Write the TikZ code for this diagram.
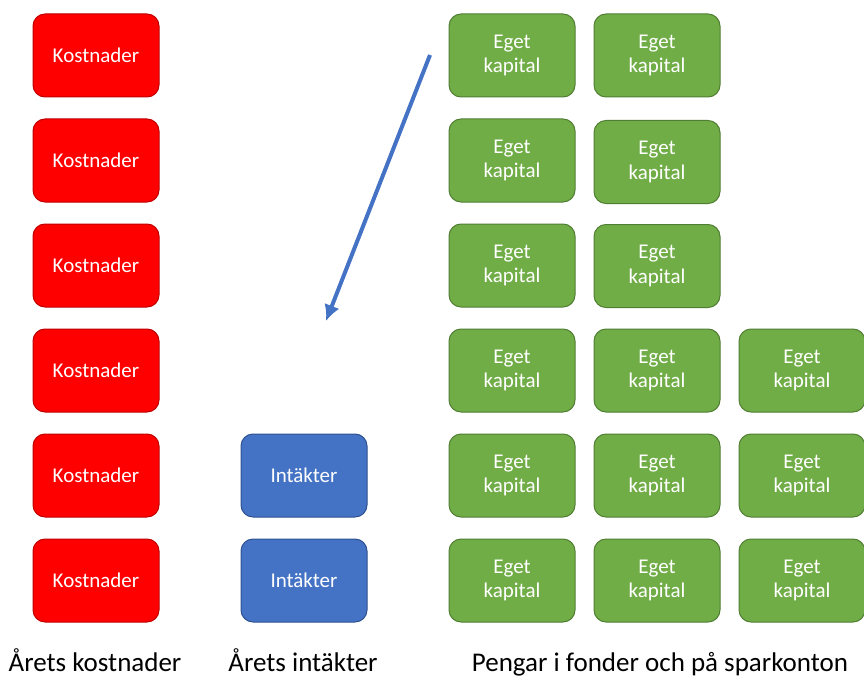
\documentclass[tikz,border=0pt]{standalone}
\usepackage{fontspec}
\setmainfont{Carlito}
\usetikzlibrary{arrows.meta}
\definecolor{kred}{HTML}{FF0000}
\definecolor{kredb}{HTML}{C00000}
\definecolor{igreen}{HTML}{70AD47}
\definecolor{igreenb}{HTML}{507E32}
\definecolor{iblue}{HTML}{4472C4}
\definecolor{iblueb}{HTML}{2F528F}
\begin{document}
\begin{tikzpicture}[x=1pt,y=-1pt,
  box/.style={rounded corners=12pt, minimum width=126pt, minimum height=83pt, inner sep=0pt, text=white, font=\fontsize{21}{24.5}\selectfont, align=center, line width=1pt},
  kost/.style={box, fill=kred, draw=kredb},
  intk/.style={box, fill=iblue, draw=iblueb},
  eget/.style={box, fill=igreen, draw=igreenb},
  captxt/.style={font=\fontsize{27}{30}\selectfont, inner sep=0pt, anchor=base}]
\useasboundingbox (0,0) rectangle (864,679);
\foreach \i/\y in {1/55.5,2/160.5,3/265.5,4/370.5,5/475.5,6/580.5}{
  \node[kost] (k\i) at (96,\y) {Kostnader};
}
\node[intk] (i5) at (304,475.5) {Intäkter};
\node[intk] (i6) at (304,580.5) {Intäkter};
\foreach \i/\y in {1/55.5,2/160.5,3/265.5,4/370.5,5/475.5,6/580.5}{
  \node[eget] (ga\i) at (512,\y) {Eget\\kapital};
}
\foreach \i/\y in {1/55.5,2/162,3/266,4/370.5,5/475.5,6/580.5}{
  \node[eget] (gb\i) at (657,\y) {Eget\\kapital};
}
\foreach \i/\y in {4/370.5,5/475.5,6/580.5}{
  \node[eget] (gc\i) at (802,\y) {Eget\\kapital};
}
\coordinate (as) at (430,55);
\coordinate (ae) at (326,321);
\draw[iblue, line width=4pt, -{Latex[length=16pt,width=16pt]}] (as) -- (ae);
\node[captxt] (c1) at (95,671) {Årets kostnader};
\node[captxt] (c2) at (303,671) {Årets intäkter};
\node[captxt] (c3) at (660,671) {Pengar i fonder och på sparkonton};
\end{tikzpicture}
\end{document}
